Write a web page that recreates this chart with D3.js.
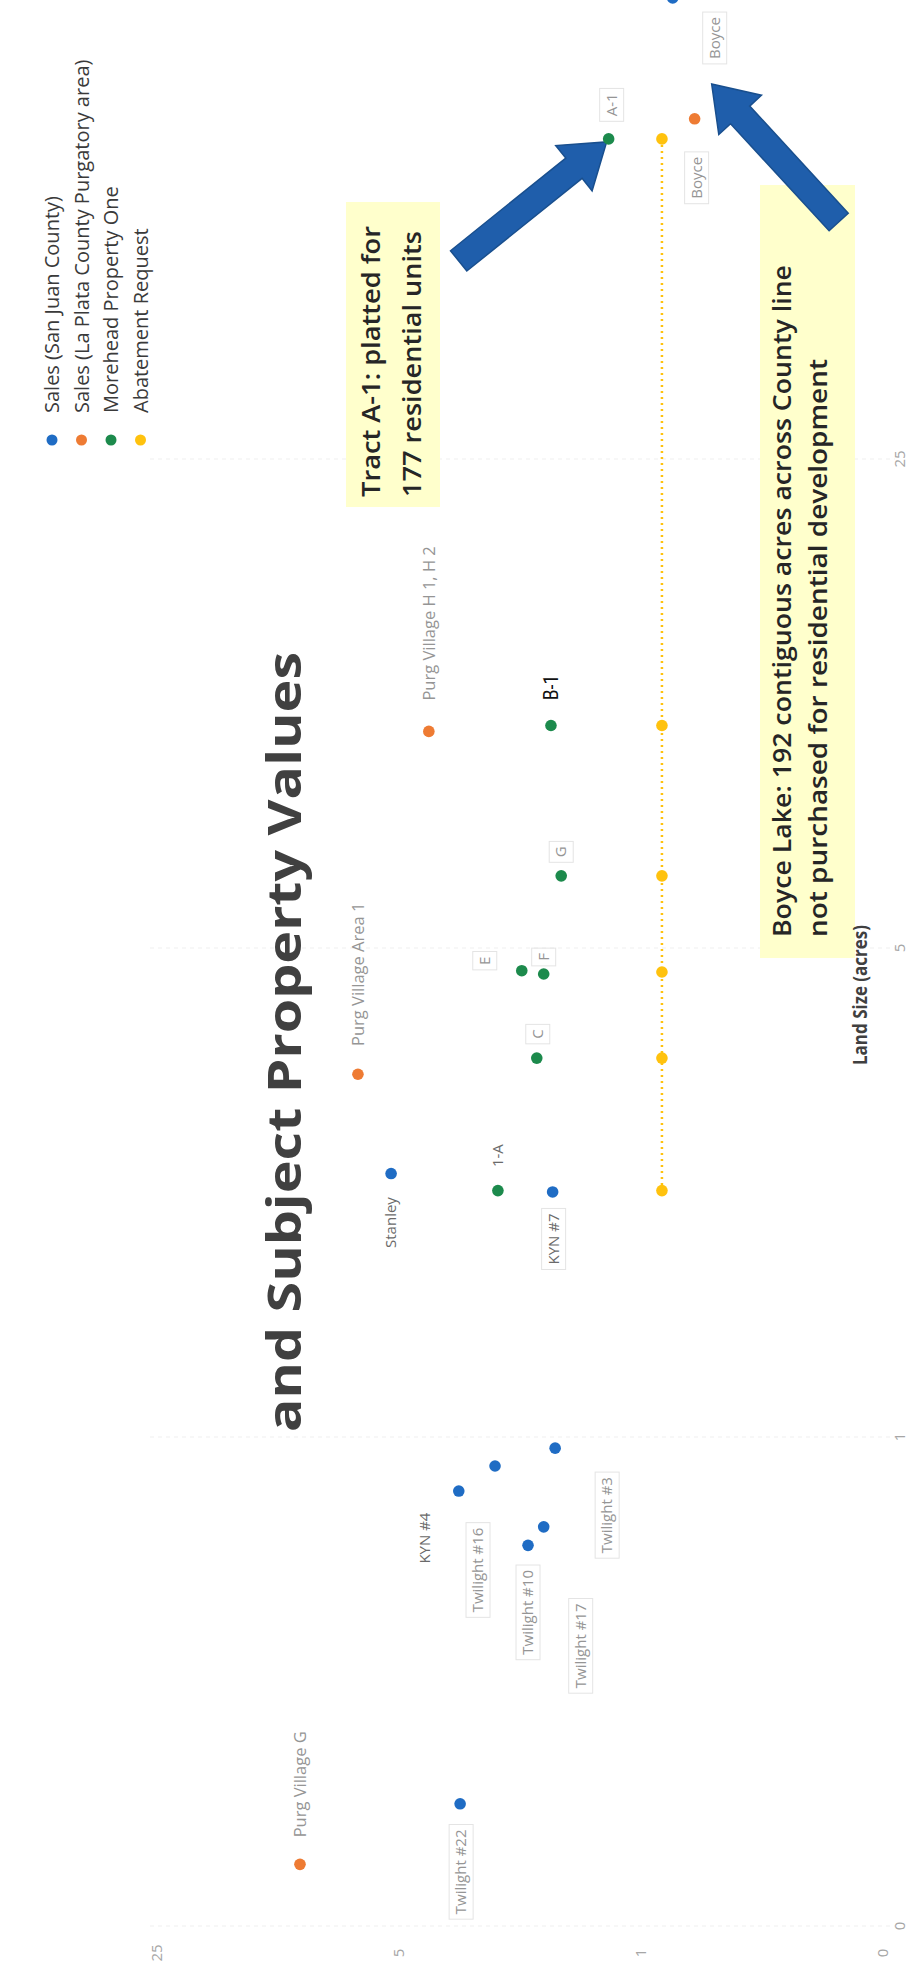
<!DOCTYPE html>
<html><head><meta charset="utf-8">
<script src="https://cdn.jsdelivr.net/npm/d3@7"></script>
<style>html,body{margin:0;padding:0;background:#fff;} svg{display:block;}</style>
</head><body>
<svg id="chart" width="911" height="1969"></svg>
<script>
// ---------------- data ----------------
const seriesNames = ["Sales (San Juan County)", "Sales (La Plata County Purgatory area)", "Morehead Property One", "Abatement Request"];
const tickValues = [0.2, 1, 5, 25];

const sanJuanNames  = ["Boyce", "Stanley", "KYN #7", "Twilight #3", "Twilight #16", "KYN #4", "Twilight #10", "Twilight #17", "Twilight #22"];
const sanJuanAcres  = [114, 2.38, 2.24, 0.964, 0.909, 0.837, 0.70, 0.744, 0.299];
const sanJuanValues = [0.81, 5.27, 1.80, 1.77, 2.64, 3.36, 2.12, 1.91, 3.33];

const laPlataNames  = ["Purg Village G", "Purg Village Area 1", "Purg Village H 1, H 2", "Boyce"];
const laPlataAcres  = [0.245, 3.30, 10.2, 76.6];
const laPlataValues = [9.66, 6.57, 4.10, 0.70];

const moreheadNames  = ["A-1", "B-1", "G", "E", "F", "C", "1-A"];
const moreheadAcres  = [71.7, 10.4, 6.34, 4.64, 4.59, 3.48, 2.25];
const moreheadValues = [1.24, 1.82, 1.70, 2.21, 1.91, 2.00, 2.59];

const abatementAcres  = [71.7, 10.4, 6.34, 4.62, 3.48, 2.25];
const abatementValues = [0.87, 0.87, 0.87, 0.87, 0.87, 0.87];

const titleText = "and Subject Property Values";
const xAxisTitle = "Land Size (acres)";
const note1 = ["Tract A-1: platted for", "177 residential units"];
const note2 = ["Boyce Lake: 192 contiguous acres across County line", "not purchased for residential development"];

// ---------------- drawing ----------------
const colors = ["#1f6cc4", "#ee7b33", "#1c8a4c", "#ffc20e"];
const svg = d3.select("#chart");
const FONT = "'Open Sans', 'DejaVu Sans', sans-serif";

// page is rotated: land size runs up the page, value runs to the left
const x = d3.scaleLog().base(5).domain([0.2, 25]).range([1926, 459]);   // acres -> page y
const y = d3.scaleLog().base(5).domain([0.2, 25]).range([883, 157]);    // value -> page x

function rtext(parent, px, py, str, anchor) {
  return parent.append("text")
    .attr("transform", `translate(${px},${py}) rotate(-90)`)
    .attr("text-anchor", anchor || "middle")
    .attr("font-family", FONT)
    .text(str);
}

// gridlines for land-size ticks
const grid = svg.append("g");
grid.selectAll("line").data(tickValues).join("line")
  .attr("x1", 150).attr("x2", 895)
  .attr("y1", d => x(d)).attr("y2", d => x(d))
  .attr("stroke", "#f0f0f0").attr("stroke-width", 1.2).attr("stroke-dasharray", "4,4");

// title (partially cut at the page edge)
svg.append("clipPath").attr("id", "tclip").append("rect").attr("x", 264).attr("y", 0).attr("width", 200).attr("height", 1969);
rtext(svg.append("g").attr("clip-path", "url(#tclip)"), 301, 1042, titleText)
  .attr("font-size", 46).attr("font-weight", 700).attr("fill", "#404040")
  .attr("textLength", 780).attr("lengthAdjust", "spacingAndGlyphs");

// legend
const legend = svg.append("g");
seriesNames.forEach((n, i) => {
  const lx = 52 + i * 29.5;
  legend.append("circle").attr("cx", lx).attr("cy", 440).attr("r", 5.5).attr("fill", colors[i]);
  rtext(legend, lx, 413, n, "start").attr("dy", "0.35em").attr("font-size", 20).attr("fill", "#3a3a3a");
});

// annotation boxes
const notes = svg.append("g");
notes.append("rect").attr("x", 346).attr("y", 202).attr("width", 94).attr("height", 305).attr("fill", "#ffffcc");
[[380, 271], [421, 266]].forEach((p, i) => {
  rtext(notes, p[0], 497, note1[i], "start").attr("font-size", 25).attr("font-weight", 600).attr("fill", "#262626")
    .attr("textLength", p[1]).attr("lengthAdjust", "spacingAndGlyphs");
});
notes.append("rect").attr("x", 760).attr("y", 185).attr("width", 95).attr("height", 773).attr("fill", "#ffffcc");
[[791, 672], [827, 578]].forEach((p, i) => {
  rtext(notes, p[0], 937, note2[i], "start").attr("font-size", 26).attr("font-weight", 600).attr("fill", "#262626")
    .attr("textLength", p[1]).attr("lengthAdjust", "spacingAndGlyphs");
});

// block arrows
function blockArrow(tail, tip, shaftW, headW, headL) {
  const dx = tip[0] - tail[0], dy = tip[1] - tail[1];
  const L = Math.hypot(dx, dy), ux = dx / L, uy = dy / L, nx = -uy, ny = ux;
  const bx = tip[0] - ux * headL, by = tip[1] - uy * headL;
  const pts = [
    [tail[0] + nx * shaftW / 2, tail[1] + ny * shaftW / 2],
    [bx + nx * shaftW / 2, by + ny * shaftW / 2],
    [bx + nx * headW / 2, by + ny * headW / 2],
    tip,
    [bx - nx * headW / 2, by - ny * headW / 2],
    [bx - nx * shaftW / 2, by - ny * shaftW / 2],
    [tail[0] - nx * shaftW / 2, tail[1] - ny * shaftW / 2]
  ];
  svg.append("polygon").attr("points", pts.map(p => p.join(",")).join(" "))
    .attr("fill", "#1f5eab").attr("stroke", "#194f8e").attr("stroke-width", 1.5);
}
const a1x = y(moreheadValues[0]), a1y = x(moreheadAcres[0]);
blockArrow([a1x - 150, a1y + 122], [a1x - 2, a1y + 3], 26, 58, 42);
const bjx = y(sanJuanValues[0]), bjy = x(sanJuanAcres[0]);
blockArrow([bjx + 166, bjy + 224], [bjx + 39, bjy + 86], 26, 58, 42);

// abatement dotted line
svg.append("path")
  .attr("d", d3.line().x(d => y(d[1])).y(d => x(d[0]))(abatementAcres.map((a, i) => [a, abatementValues[i]])))
  .attr("fill", "none").attr("stroke", colors[3]).attr("stroke-width", 2.5).attr("stroke-dasharray", "2,4");

// label placement (page offsets from the point) and styles
const labelOffsets = {
  sj: {"Boyce": [42, 40], "Stanley": [0, 49], "KYN #7": [1, 47], "Twilight #3": [52, 67], "Twilight #16": [-17, 104],
       "KYN #4": [-34, 47], "Twilight #10": [0, 67], "Twilight #17": [37, 119], "Twilight #22": [1, 68]},
  lp: {"Purg Village G": [0, -80], "Purg Village Area 1": [0, -100], "Purg Village H 1, H 2": [0, -108], "Boyce": [2, 59]},
  mh: {"A-1": [3, -34], "B-1": [0, -38], "G": [0, -24], "E": [-37, -10], "F": [0, -17], "C": [1, -24], "1-A": [0, -35]}
};
const boxed = new Set(["sj:Boyce", "sj:KYN #7", "sj:Twilight #3", "sj:Twilight #16", "sj:Twilight #10", "sj:Twilight #17", "sj:Twilight #22",
  "lp:Boyce", "mh:A-1", "mh:C", "mh:E", "mh:F", "mh:G"]);
const dark = new Set(["sj:Stanley", "sj:KYN #4", "sj:KYN #7", "mh:1-A"]);

const series = [
  {key: "sj", names: sanJuanNames, acres: sanJuanAcres, values: sanJuanValues, color: colors[0]},
  {key: "lp", names: laPlataNames, acres: laPlataAcres, values: laPlataValues, color: colors[1]},
  {key: "mh", names: moreheadNames, acres: moreheadAcres, values: moreheadValues, color: colors[2]},
  {key: "ab", names: null, acres: abatementAcres, values: abatementValues, color: colors[3]}
];

const pts = svg.append("g"), labs = svg.append("g");
series.forEach(s => {
  s.acres.forEach((a, i) => {
    const px = y(s.values[i]), py = x(a);
    pts.append("circle").attr("cx", px).attr("cy", py).attr("r", 5.8).attr("fill", s.color);
    if (!s.names) return;
    const nm = s.names[i], off = labelOffsets[s.key][nm], id = s.key + ":" + nm;
    const g = labs.append("g").attr("transform", `translate(${px + off[0]},${py + off[1]}) rotate(-90)`);
    const isB1 = nm === "B-1";
    const lpBig = s.key === "lp" && nm !== "Boyce";
    const t = g.append("text").attr("text-anchor", "middle").attr("dy", "0.35em")
      .attr("font-family", isB1 ? "'Liberation Sans Narrow','Roboto Condensed','Open Sans',sans-serif" : FONT)
      .attr("font-size", isB1 ? 20 : (lpBig ? 16.5 : 15))
      .attr("fill", isB1 ? "#111" : (dark.has(id) ? "#6a6a6a" : "#959595"))
      .text(nm);
    if (boxed.has(id)) {
      const w = t.node().getComputedTextLength();
      g.insert("rect", "text").attr("x", -w / 2 - 5).attr("y", -12).attr("width", w + 10).attr("height", 24)
        .attr("fill", "none").attr("stroke", "#e4e4e4").attr("stroke-width", 1);
    }
  });
});

// axes (tick labels only)
const fmt = d3.format(".0f");
const xAx = svg.append("g");
tickValues.forEach(t => rtext(xAx, 900, x(t), fmt(t)).attr("dy", "0.35em").attr("font-size", 15).attr("fill", "#a6a6a6"));
const yAx = svg.append("g");
tickValues.forEach(t => rtext(yAx, y(t), 1953, fmt(t)).attr("dy", "0.35em").attr("font-size", 15).attr("fill", "#a6a6a6"));

// axis title
rtext(svg, 867, 995, xAxisTitle).attr("font-size", 19).attr("font-weight", 700).attr("fill", "#404040")
  .attr("textLength", 140).attr("lengthAdjust", "spacingAndGlyphs");
</script>
</body></html>
